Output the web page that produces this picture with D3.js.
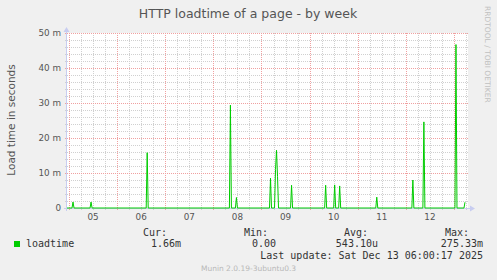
<!DOCTYPE html>
<html>
<head>
<meta charset="utf-8">
<script src="https://cdn.jsdelivr.net/npm/d3@7"></script>
<style>
  body { margin: 0; background: #f0f0f0; }
  svg { display: block; }
</style>
</head>
<body>
<svg id="chart" width="497" height="280"></svg>
<script>
// series: HTTP loadtime (seconds), 30 min samples, UTC
const times = [
  "2025-12-04 23:00",
  "2025-12-05 01:30", "2025-12-05 02:00", "2025-12-05 02:30",
  "2025-12-05 10:30", "2025-12-05 11:00", "2025-12-05 11:30",
  "2025-12-06 14:30", "2025-12-06 15:00", "2025-12-06 15:30",
  "2025-12-08 08:00", "2025-12-08 08:30", "2025-12-08 09:00",
  "2025-12-08 11:00", "2025-12-08 11:30", "2025-12-08 12:00",
  "2025-12-09 04:00", "2025-12-09 04:30", "2025-12-09 05:00",
  "2025-12-09 06:30", "2025-12-09 07:00", "2025-12-09 07:30", "2025-12-09 08:00", "2025-12-09 08:30",
  "2025-12-09 14:30", "2025-12-09 15:00", "2025-12-09 15:30",
  "2025-12-10 07:30", "2025-12-10 08:00", "2025-12-10 08:30",
  "2025-12-10 12:00", "2025-12-10 12:30", "2025-12-10 13:00",
  "2025-12-10 14:30", "2025-12-10 15:00", "2025-12-10 15:30",
  "2025-12-11 09:00", "2025-12-11 09:30", "2025-12-11 10:00",
  "2025-12-12 03:00", "2025-12-12 03:30", "2025-12-12 04:00",
  "2025-12-12 08:30", "2025-12-12 09:00", "2025-12-12 09:30",
  "2025-12-13 00:30", "2025-12-13 01:00", "2025-12-13 01:30",
  "2025-12-13 05:00", "2025-12-13 05:30"
];
const loadtime = [
  0,
  0, 0.0017, 0,
  0, 0.0017, 0,
  0, 0.0158, 0,
  0, 0.0294, 0,
  0, 0.0030, 0,
  0, 0.0085, 0,
  0, 0.0110, 0.0165, 0.0090, 0,
  0, 0.0065, 0,
  0, 0.0065, 0,
  0, 0.0066, 0,
  0, 0.0063, 0,
  0, 0.0031, 0,
  0, 0.0080, 0,
  0, 0.0246, 0,
  0, 0.0467, 0,
  0, 0.00166
];
const yTicks = [0, 0.01, 0.02, 0.03, 0.04, 0.05];
const yTickLabels = ["0", "10 m", "20 m", "30 m", "40 m", "50 m"];
const legendHeaders = ["Cur:", "Min:", "Avg:", "Max:"];
const legendValues = ["1.66m", "0.00", "543.10u", "275.33m"];
const timeStart = "2025-12-04 23:00";
const timeEnd = "2025-12-13 07:00";

const parse = d3.utcParse("%Y-%m-%d %H:%M");
const data = times.map((t, i) => ({ t: parse(t), v: loadtime[i] }));

const svg = d3.select("#chart");
const pLeft = 67, pRight = 468, pTop = 33, pBottom = 208;

const x = d3.scaleUtc().domain([parse(timeStart), parse(timeEnd)]).range([pLeft, pRight]);
const y = d3.scaleLinear().domain([0, 0.05]).range([pBottom, pTop]);

svg.append("rect").attr("width", 497).attr("height", 280).attr("fill", "#f0f0f0");
svg.append("rect").attr("x", pLeft).attr("y", pTop).attr("width", pRight - pLeft).attr("height", pBottom - pTop).attr("fill", "#ffffff");

// title
svg.append("text").attr("x", 248).attr("y", 18).attr("text-anchor", "middle")
  .style("font", "12.5px 'DejaVu Sans'").attr("fill", "#555").text("HTTP loadtime of a page - by week");

// minor grid
const minorY = d3.range(0, 0.0501, 0.002).filter(v => Math.round(v * 1000) % 10 !== 0);
svg.append("g").selectAll("line").data(minorY).join("line")
  .attr("x1", pLeft - 2).attr("x2", pRight).attr("y1", d => Math.round(y(d)) + 0.5).attr("y2", d => Math.round(y(d)) + 0.5)
  .attr("stroke", "#d0d0d0").attr("stroke-dasharray", "1,1");
const minorX = x.ticks(d3.utcHour.every(6)).filter(d => d.getUTCHours() !== 0);
svg.append("g").selectAll("line").data(minorX).join("line")
  .attr("x1", d => Math.round(x(d)) + 0.5).attr("x2", d => Math.round(x(d)) + 0.5).attr("y1", pTop).attr("y2", pBottom + 2)
  .attr("stroke", "#d0d0d0").attr("stroke-dasharray", "1,1");

// major grid
svg.append("g").selectAll("line").data(yTicks).join("line")
  .attr("x1", pLeft - 2).attr("x2", pRight).attr("y1", d => Math.round(y(d)) + 0.5).attr("y2", d => Math.round(y(d)) + 0.5)
  .attr("stroke", "#f0a0a0").attr("stroke-dasharray", "1,1");
const days = x.ticks(d3.utcDay.every(1));
svg.append("g").selectAll("line").data(days).join("line")
  .attr("x1", d => Math.round(x(d)) + 0.5).attr("x2", d => Math.round(x(d)) + 0.5).attr("y1", pTop).attr("y2", pBottom + 3)
  .attr("stroke", "#f0a0a0").attr("stroke-dasharray", "1,1");

// y labels
svg.append("g").selectAll("text").data(yTicks).join("text")
  .attr("x", 61).attr("y", d => y(d) + 3).attr("text-anchor", "end")
  .style("font", "8.8px 'DejaVu Sans'").attr("fill", "#555").text((d, i) => yTickLabels[i]);

// x labels at noon
const fmt = d3.utcFormat("%d");
svg.append("g").selectAll("text").data(days.slice(0, -1)).join("text")
  .attr("x", d => x(d3.utcHour.offset(d, 12))).attr("y", 220).attr("text-anchor", "middle")
  .style("font", "8.8px 'DejaVu Sans'").attr("fill", "#555").text(d => fmt(d));

// axes
svg.append("line").attr("x1", pLeft - 0.5).attr("x2", pLeft - 0.5).attr("y1", pTop - 2).attr("y2", pBottom + 3).attr("stroke", "#c8cdf0");
svg.append("line").attr("x1", pLeft - 3).attr("x2", pRight + 3).attr("y1", pBottom + 0.5).attr("y2", pBottom + 0.5).attr("stroke", "#c8cdf0");
svg.append("path").attr("d", `M${pLeft - 3.5},${pTop - 1} L${pLeft - 0.5},${pTop - 6} L${pLeft + 2.5},${pTop - 1} Z`).attr("fill", "#c8cdf0");
svg.append("path").attr("d", `M${pRight + 2},${pBottom - 2.5} L${pRight + 7},${pBottom + 0.5} L${pRight + 2},${pBottom + 3.5} Z`).attr("fill", "#c8cdf0");

// line
const line = d3.line().x(d => x(d.t)).y(d => y(d.v));
svg.append("path").datum(data).attr("d", line).attr("fill", "none")
  .attr("stroke", "#00cc00").attr("stroke-width", 1);

// y axis title
svg.append("text").attr("transform", "translate(15,120) rotate(-90)").attr("text-anchor", "middle")
  .style("font", "10.5px 'DejaVu Sans'").attr("fill", "#555").text("Load time in seconds");

// rrdtool watermark
svg.append("text").attr("transform", "translate(485,6) rotate(90)")
  .style("font", "7.5px 'DejaVu Sans'").attr("fill", "#c0c0c0").text("RRDTOOL / TOBI OETIKER");

// legend
const mono = "10px 'DejaVu Sans Mono'";
svg.append("rect").attr("x", 14).attr("y", 241).attr("width", 6).attr("height", 6).attr("fill", "#00cc00");
svg.append("text").attr("x", 26).attr("y", 247).style("font", mono).attr("fill", "#333").text("loadtime");
const colRight = [167, 268, 368, 469];
const valRight = [181, 276, 378, 483];
svg.append("g").selectAll("text").data(legendHeaders).join("text")
  .attr("x", (d, i) => colRight[i]).attr("y", 236).attr("text-anchor", "end")
  .style("font", mono).attr("fill", "#333").text(d => d);
svg.append("g").selectAll("text").data(legendValues).join("text")
  .attr("x", (d, i) => valRight[i]).attr("y", 247).attr("text-anchor", "end")
  .style("font", mono).attr("fill", "#333").text(d => d);
svg.append("text").attr("x", 483).attr("y", 259).attr("text-anchor", "end")
  .style("font", mono).attr("fill", "#333").text("Last update: Sat Dec 13 06:00:17 2025");
svg.append("text").attr("x", 248.5).attr("y", 271).attr("text-anchor", "middle")
  .style("font", "7.5px 'DejaVu Sans'").attr("fill", "#b8b8b8").text("Munin 2.0.19-3ubuntu0.3");
</script>
</body>
</html>
